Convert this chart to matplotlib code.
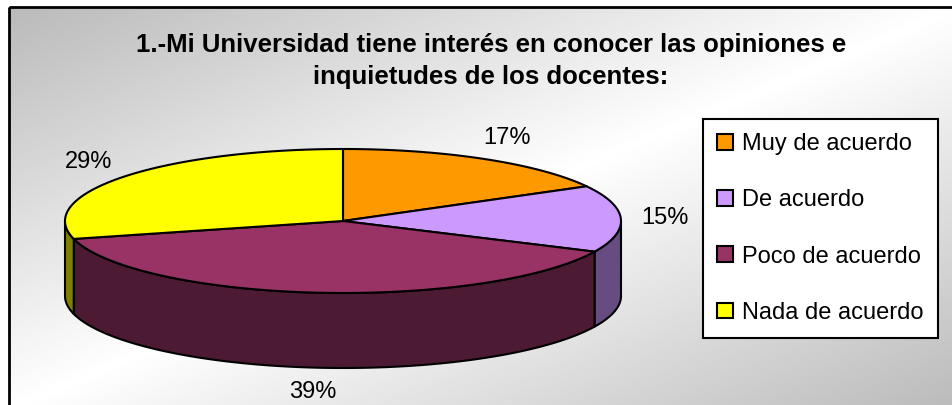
import numpy as np
import matplotlib.pyplot as plt
from matplotlib.patches import Polygon, Rectangle, Patch

plt.rcParams['font.family'] = ['Liberation Sans', 'DejaVu Sans']

titulo = '1.-Mi Universidad tiene interés en conocer las opiniones e\ninquietudes de los docentes:'
categorias = ['Muy de acuerdo', 'De acuerdo', 'Poco de acuerdo', 'Nada de acuerdo']
valores = [17, 15, 39, 29]
colores = ['#FF9900', '#CC99FF', '#993366', '#FFFF00']
colores_lado = ['#804C00', '#664C80', '#4C1A33', '#808000']

W, H = 953, 405
fig = plt.figure(figsize=(W / 100, H / 100), dpi=100)
ax = fig.add_axes([0, 0, 1, 1])

# fondo degradado (gris - blanco - gris en diagonal)
gx, gy = np.meshgrid(np.linspace(0, 1, 300), np.linspace(0, 1, 150))
u = (gx + gy) / 2
fondo = 0.73 + 0.27 * (1 - np.abs(2 * u - 1))
ax.imshow(fondo, cmap='gray', vmin=0, vmax=1, extent=(9, W + 5, H + 5, 7),
          aspect='auto', zorder=0)
ax.add_patch(Rectangle((9, 7), W, H, fill=False, ec='black', lw=2, zorder=1))
ax.set_xlim(0, W)
ax.set_ylim(H, 0)
ax.axis('off')

# pastel 3D
cx, cy, a, b, prof = 343, 221, 278, 72, 75
fr = np.array(valores) / sum(valores)
fin = 90 - 360 * np.cumsum(fr)
ini = fin + 360 * fr


def arco(t1, t2, dy=0):
    t = np.radians(np.linspace(t1, t2, 120))
    return np.column_stack([cx + a * np.cos(t), cy - b * np.sin(t) + dy])


# lados visibles (mitad delantera)
for i in range(len(valores)):
    for k in (0, -360):
        lo = max(fin[i], -180 + k)
        hi = min(ini[i], k)
        if hi > lo:
            pts = np.vstack([arco(lo, hi), arco(hi, lo, prof)])
            ax.add_patch(Polygon(pts, fc=colores_lado[i], ec='black', lw=1.5,
                                 joinstyle='round', zorder=2))

# tapa superior
for i in range(len(valores)):
    pts = np.vstack([[cx, cy], arco(ini[i], fin[i])])
    ax.add_patch(Polygon(pts, fc=colores[i], ec='black', lw=1.5,
                         joinstyle='round', zorder=3))

# etiquetas de porcentaje
for i in range(len(valores)):
    m = np.radians((ini[i] + fin[i]) / 2)
    lx = cx + (a + 44) * np.cos(m)
    ly = cy - (b + 25) * np.sin(m) + prof * max(0, -np.sin(m))
    ax.text(lx, ly, f'{valores[i]}%', ha='center', va='center', fontsize=17, zorder=4)

ax.text(491, 61, titulo, ha='center', va='center', fontsize=18.5,
        fontweight='bold', linespacing=1.38, zorder=4)

manejadores = [Patch(fc=c, ec='black', lw=1.5) for c in colores]
ley = ax.legend(manejadores, categorias, loc='upper left',
                bbox_to_anchor=(703 / W, 1 - 119 / H), borderaxespad=0,
                fontsize=17, fancybox=False, framealpha=1, edgecolor='black',
                handlelength=0.65, handleheight=0.65, handletextpad=0.4,
                labelspacing=1.45, borderpad=0.6)
ley.get_frame().set_linewidth(1.5)
ley.set_zorder(5)

fig.savefig('out.png', dpi=100)
